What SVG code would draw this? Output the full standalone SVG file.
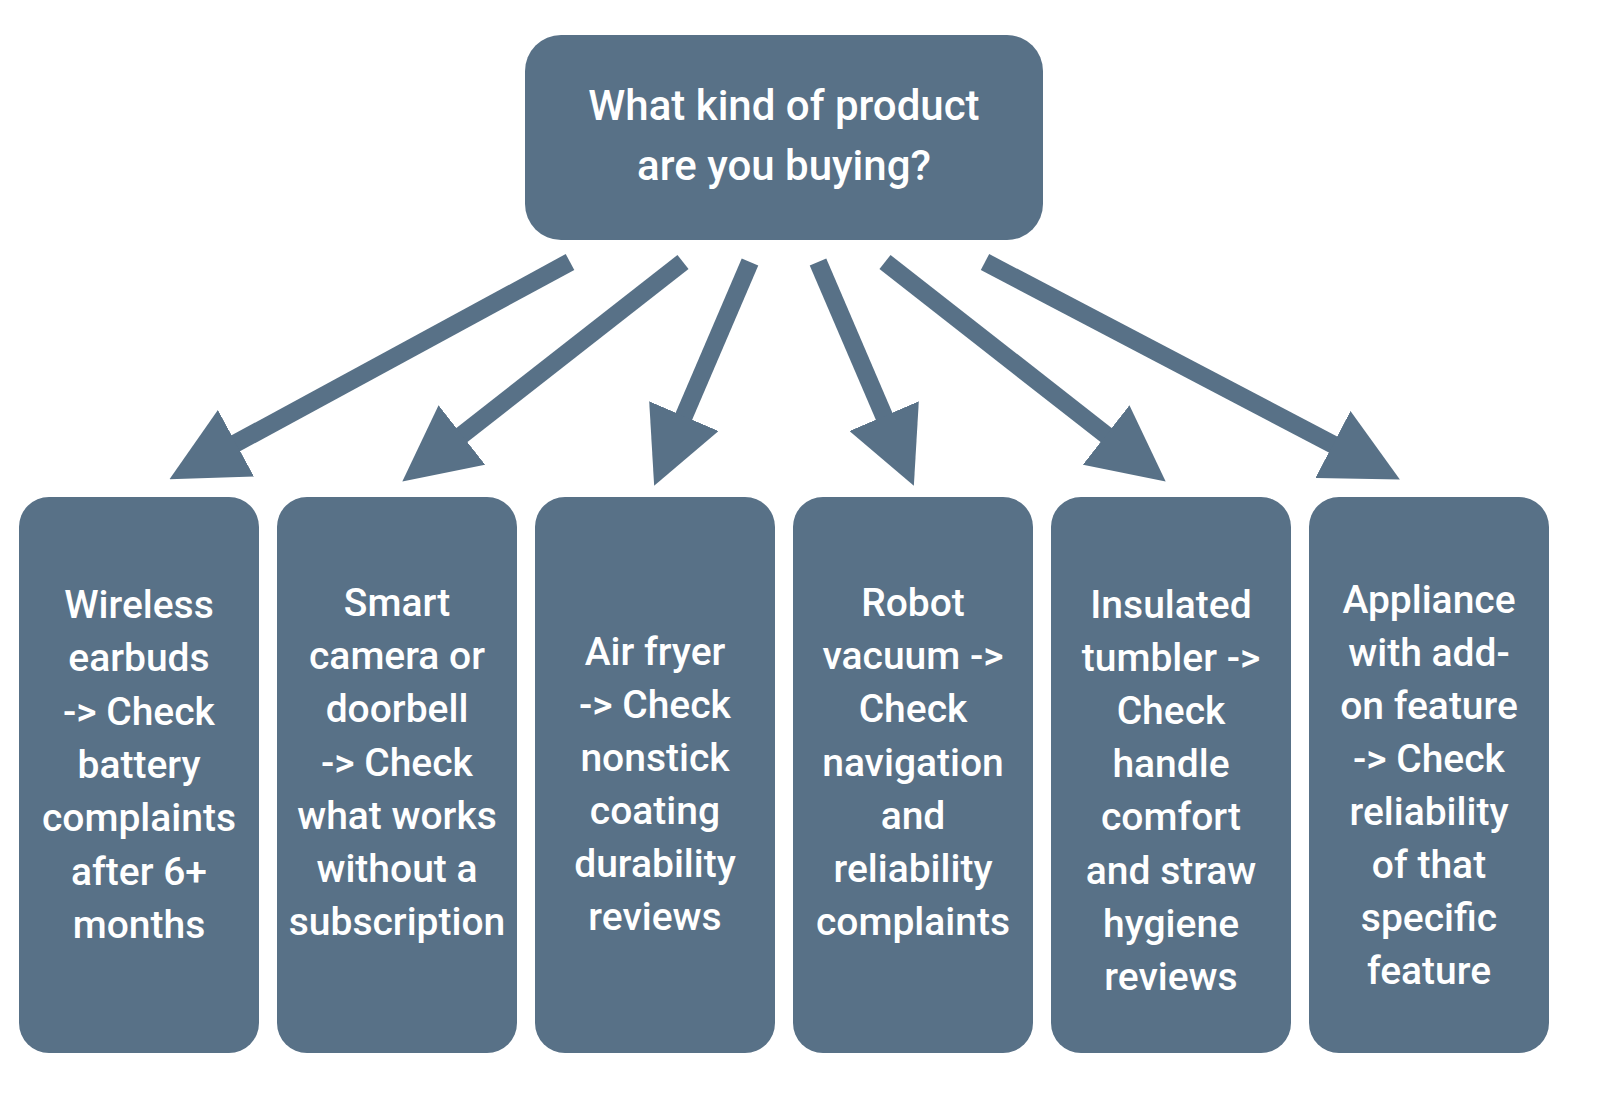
<svg xmlns="http://www.w3.org/2000/svg" width="1600" height="1100" viewBox="0 0 1600 1100">
<style>
.box{fill:#587187}
.t{fill:#fff;font-family:Roboto,"Noto Sans",sans-serif;font-weight:500;font-size:39px;text-anchor:middle}
.q{font-size:42px}
.c{stroke:#587187;stroke-width:18;fill:none}
</style>
<defs><marker id="ah" viewBox="0 0 10 10" refX="3" refY="5" markerWidth="4.2" markerHeight="4.2" markerUnits="strokeWidth" orient="auto"><path d="M0,0 L10,5 L0,10 z" fill="#587187"/></marker></defs>
<rect width="1600" height="1100" fill="#fff"/>
<g id="root"><rect class="box" x="525" y="35" width="518" height="205" rx="36"/>
<text class="t q" x="784" y="120">What kind of product</text><text class="t q" x="784" y="180">are you buying?</text></g>
<g id="connectors">
<line class="c" x1="570" y1="262" x2="216" y2="454" marker-end="url(#ah)"/>
<line class="c" x1="683" y1="262" x2="444" y2="449" marker-end="url(#ah)"/>
<line class="c" x1="750" y1="262" x2="675" y2="437" marker-end="url(#ah)"/>
<line class="c" x1="818" y1="262" x2="893" y2="437" marker-end="url(#ah)"/>
<line class="c" x1="885" y1="262" x2="1124" y2="449" marker-end="url(#ah)"/>
<line class="c" x1="985" y1="262" x2="1353" y2="455" marker-end="url(#ah)"/>
</g>
<g id="n1"><rect class="box" x="19" y="497" width="240" height="556" rx="30"/>
<text class="t"><tspan x="139" y="618">Wireless</tspan><tspan x="139" y="671">earbuds</tspan><tspan x="139" y="725">-&gt; Check</tspan><tspan x="139" y="778">battery</tspan><tspan x="139" y="831">complaints</tspan><tspan x="139" y="885">after 6+</tspan><tspan x="139" y="938">months</tspan></text></g>
<g id="n2"><rect class="box" x="277" y="497" width="240" height="556" rx="30"/>
<text class="t"><tspan x="397" y="616">Smart</tspan><tspan x="397" y="669">camera or</tspan><tspan x="397" y="722">doorbell</tspan><tspan x="397" y="776">-&gt; Check</tspan><tspan x="397" y="829">what works</tspan><tspan x="397" y="882">without a</tspan><tspan x="397" y="935">subscription</tspan></text></g>
<g id="n3"><rect class="box" x="535" y="497" width="240" height="556" rx="30"/>
<text class="t"><tspan x="655" y="665">Air fryer</tspan><tspan x="655" y="718">-&gt; Check</tspan><tspan x="655" y="771">nonstick</tspan><tspan x="655" y="824">coating</tspan><tspan x="655" y="877">durability</tspan><tspan x="655" y="930">reviews</tspan></text></g>
<g id="n4"><rect class="box" x="793" y="497" width="240" height="556" rx="30"/>
<text class="t"><tspan x="913" y="616">Robot</tspan><tspan x="913" y="669">vacuum -&gt;</tspan><tspan x="913" y="722">Check</tspan><tspan x="913" y="776">navigation</tspan><tspan x="913" y="829">and</tspan><tspan x="913" y="882">reliability</tspan><tspan x="913" y="935">complaints</tspan></text></g>
<g id="n5"><rect class="box" x="1051" y="497" width="240" height="556" rx="30"/>
<text class="t"><tspan x="1171" y="618">Insulated</tspan><tspan x="1171" y="671">tumbler -&gt;</tspan><tspan x="1171" y="724">Check</tspan><tspan x="1171" y="777">handle</tspan><tspan x="1171" y="830">comfort</tspan><tspan x="1171" y="884">and straw</tspan><tspan x="1171" y="937">hygiene</tspan><tspan x="1171" y="990">reviews</tspan></text></g>
<g id="n6"><rect class="box" x="1309" y="497" width="240" height="556" rx="30"/>
<text class="t"><tspan x="1429" y="613">Appliance</tspan><tspan x="1429" y="666">with add-</tspan><tspan x="1429" y="719">on feature</tspan><tspan x="1429" y="772">-&gt; Check</tspan><tspan x="1429" y="825">reliability</tspan><tspan x="1429" y="878">of that</tspan><tspan x="1429" y="931">specific</tspan><tspan x="1429" y="984">feature</tspan></text></g>
</svg>
